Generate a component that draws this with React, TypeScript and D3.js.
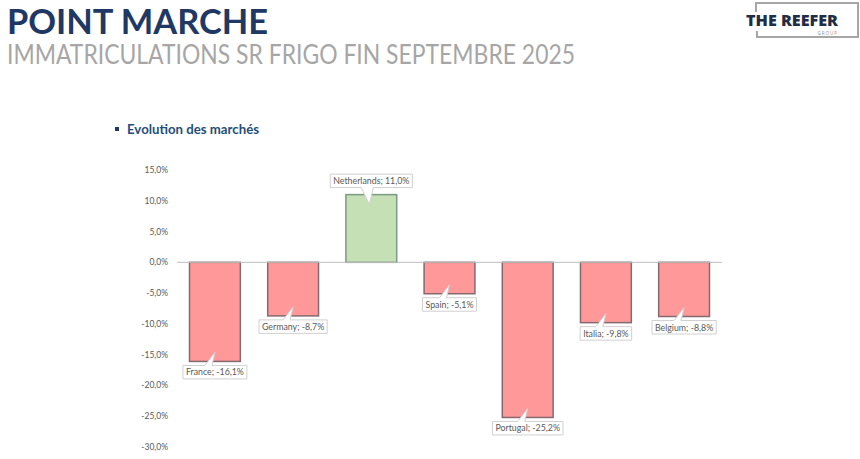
import React, { useEffect, useRef } from "react";
import * as d3 from "d3";

const countries = ["France", "Germany", "Netherlands", "Spain", "Portugal", "Italia", "Belgium"];
const values = [-16.1, -8.7, 11.0, -5.1, -25.2, -9.8, -8.8];
const yTicks = [15, 10, 5, 0, -5, -10, -15, -20, -25, -30];
const titleText = "POINT MARCHE";
const subtitleText = "IMMATRICULATIONS SR FRIGO FIN SEPTEMBRE 2025";
const sectionText = "Evolution des marchés";

const fmt = (v: number) => v.toFixed(1).replace(".", ",") + "%";

export default function App() {
  const ref = useRef<SVGSVGElement | null>(null);

  useEffect(() => {
    const svg = d3.select(ref.current);
    svg.selectAll("*").remove();
    const W = 860, H = 459;

    svg.append("rect").attr("width", W).attr("height", H).attr("fill", "#ffffff");

    // Header
    svg.append("text").attr("x", 7).attr("y", 34).text(titleText)
      .attr("font-family", "Lato, 'Open Sans', sans-serif").attr("font-weight", 700)
      .attr("font-size", 35).attr("fill", "#1F3864")
      .attr("textLength", 261).attr("lengthAdjust", "spacingAndGlyphs");
    svg.append("text").attr("x", 7).attr("y", 64).text(subtitleText)
      .attr("font-family", "Lato, 'Open Sans', sans-serif").attr("font-weight", 400)
      .attr("font-size", 26).attr("fill", "#A6A6A6")
      .attr("textLength", 568).attr("lengthAdjust", "spacingAndGlyphs");

    // Logo
    const logo = svg.append("g");
    const bc = "#A6A6A6";
    logo.append("path").attr("d", "M756,12 L756,3 L858,3 L858,37 L757,37 L757,31")
      .attr("fill", "none").attr("stroke", bc).attr("stroke-width", 2);
    logo.append("text").attr("x", 746).attr("y", 26).text("THE REEFER")
      .attr("font-family", "'Open Sans', Lato, sans-serif").attr("font-weight", 800)
      .attr("font-size", 16).attr("fill", "#1F2D45")
      .attr("textLength", 92).attr("lengthAdjust", "spacingAndGlyphs");
    logo.append("text").attr("x", 838).attr("y", 34.5).text("GROUP")
      .attr("text-anchor", "end")
      .attr("font-family", "'Open Sans', sans-serif").attr("font-size", 4.5)
      .attr("letter-spacing", 1).attr("fill", "#8C8C8C");

    // Section heading
    svg.append("rect").attr("x", 115).attr("y", 127).attr("width", 4).attr("height", 4).attr("fill", "#1F3864");
    svg.append("text").attr("x", 127).attr("y", 134).text(sectionText)
      .attr("font-family", "Lato, 'Open Sans', sans-serif").attr("font-weight", 700)
      .attr("font-size", 13).attr("fill", "#1F4E79")
      .attr("textLength", 132).attr("lengthAdjust", "spacingAndGlyphs");

    // Scales
    const y = d3.scaleLinear().domain([-30, 15]).range([447, 170]);
    const x = d3.scaleBand<string>().domain(countries).range([177, 722])
      .paddingInner(0.35).paddingOuter(0.16);

    // Y axis labels
    const ax = svg.append("g");
    yTicks.forEach((t) => {
      ax.append("text").attr("x", 168).attr("y", y(t) + 3).attr("text-anchor", "end")
        .text(fmt(t)).attr("font-family", "Lato, sans-serif").attr("font-size", 8.5)
        .attr("fill", "#595959");
    });

    // Bars
    const bars = svg.append("g");
    countries.forEach((c, i) => {
      const v = values[i];
      const x0 = x(c) as number;
      const y0 = Math.min(y(v), y(0));
      const h = Math.abs(y(v) - y(0));
      bars.append("rect").attr("x", x0).attr("y", y0).attr("width", x.bandwidth()).attr("height", h)
        .attr("fill", v >= 0 ? "#C5E0B4" : "#FF9999")
        .attr("stroke", v >= 0 ? "#7C9B86" : "#85696F").attr("stroke-width", 1.5);
    });

    // Zero line
    svg.append("line").attr("x1", 177).attr("x2", 722).attr("y1", y(0)).attr("y2", y(0))
      .attr("stroke", "#BFBFBF").attr("stroke-width", 1);

    // Callout labels
    const lg = svg.append("g");
    countries.forEach((c, i) => {
      const v = values[i];
      const cx = (x(c) as number) + x.bandwidth() / 2;
      const g = lg.append("g");
      const path = g.append("path");
      const txt = g.append("text").text(`${c}; ${fmt(v)}`)
        .attr("font-family", "Lato, sans-serif").attr("font-size", 8.8).attr("fill", "#595959")
        .attr("text-anchor", "middle");
      const tw = (txt.node() as SVGTextElement).getComputedTextLength();
      const bw = tw + 6;
      const bh = 13.5;
      const bx0 = cx - bw / 2, bx1 = cx + bw / 2;
      let d = "";
      if (v < 0) {
        const top = y(v) + 4;
        const bot = top + bh;
        const tipY = y(v) - 9;
        d = `M${bx0},${top} L${cx - 10},${top} L${cx},${tipY} L${cx - 3},${top} L${bx1},${top} L${bx1},${bot} L${bx0},${bot} Z`;
        txt.attr("x", cx).attr("y", bot - 3.5);
      } else {
        const bot = y(v) - 7;
        const top = bot - bh;
        const tipY = y(v) + 10;
        d = `M${bx0},${top} L${bx1},${top} L${bx1},${bot} L${cx + 2},${bot} L${cx - 2},${tipY} L${cx - 10},${bot} L${bx0},${bot} Z`;
        txt.attr("x", cx).attr("y", bot - 3.5);
      }
      path.attr("d", d).attr("fill", "#ffffff").attr("stroke", "#D0D0D0").attr("stroke-width", 1);
    });
  }, []);

  return (
    <svg ref={ref} width={860} height={459}
      style={{ position: "absolute", left: 0, top: 0, display: "block" }} />
  );
}
